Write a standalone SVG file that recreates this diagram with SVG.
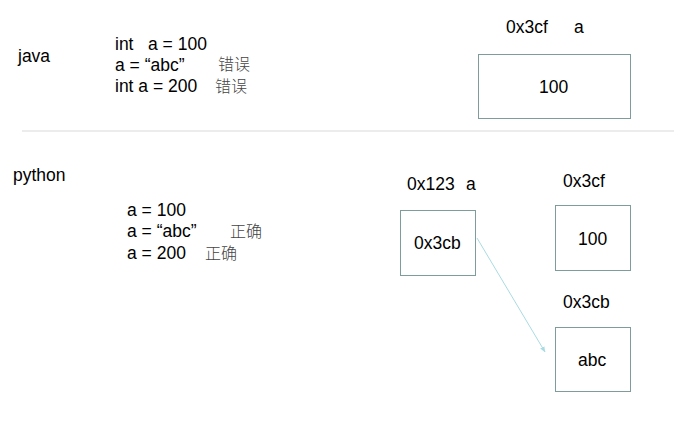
<svg xmlns="http://www.w3.org/2000/svg" width="696" height="427" viewBox="0 0 696 427">
<style>
text{font-family:"Liberation Sans",Arial,sans-serif;font-size:17.5px;fill:#000}
.cn{font-family:"Noto Sans CJK SC","Noto Sans",sans-serif;font-size:16px;fill:#444;font-weight:300}
.box{fill:#fff;stroke:#7f9c9c;stroke-width:1}
</style>
<defs>
<marker id="ah" viewBox="0 0 10 10" refX="9" refY="5" markerWidth="6" markerHeight="6" orient="auto">
<path d="M0,1 L10,5 L0,9 z" fill="#a9dbe3"/>
</marker>
</defs>
<rect width="696" height="427" fill="#fff"/>
<line x1="22" y1="131" x2="674" y2="131" stroke="#d9d9d9" stroke-width="1"/>
<g id="java-label"><text x="18" y="62">java</text></g>
<g id="java-code">
<text x="115" y="50">int</text><text x="148" y="50">a = 100</text>
<text x="115" y="71">a = “abc”</text><text class="cn" x="218" y="70">错误</text>
<text x="115" y="92">int a = 200</text><text class="cn" x="215" y="92">错误</text>
</g>
<g id="java-mem">
<text x="506" y="33">0x3cf</text><text x="574" y="33">a</text>
<rect class="box" x="478.5" y="54.5" width="152" height="64"/>
<text x="539" y="93">100</text>
</g>
<g id="python-label"><text x="13" y="181">python</text></g>
<g id="python-code">
<text x="127" y="216">a = 100</text>
<text x="127" y="237">a = “abc”</text><text class="cn" x="230" y="237">正确</text>
<text x="127" y="259">a = 200</text><text class="cn" x="205" y="259">正确</text>
</g>
<g id="var-a">
<text x="407" y="190">0x123</text><text x="466" y="190">a</text>
<rect class="box" x="400.5" y="210.5" width="75" height="65"/>
<text x="414" y="249">0x3cb</text>
</g>
<g id="obj-100">
<text x="563" y="187">0x3cf</text>
<rect class="box" x="555.5" y="205.5" width="75" height="65"/>
<text x="578" y="245">100</text>
</g>
<g id="obj-abc">
<text x="563" y="308">0x3cb</text>
<rect class="box" x="555.5" y="327.5" width="75" height="64"/>
<text x="578" y="366">abc</text>
</g>
<g id="connectors">
<line x1="477" y1="238" x2="545" y2="352" stroke="#a9dbe3" stroke-width="1" marker-end="url(#ah)"/>
</g>
</svg>
